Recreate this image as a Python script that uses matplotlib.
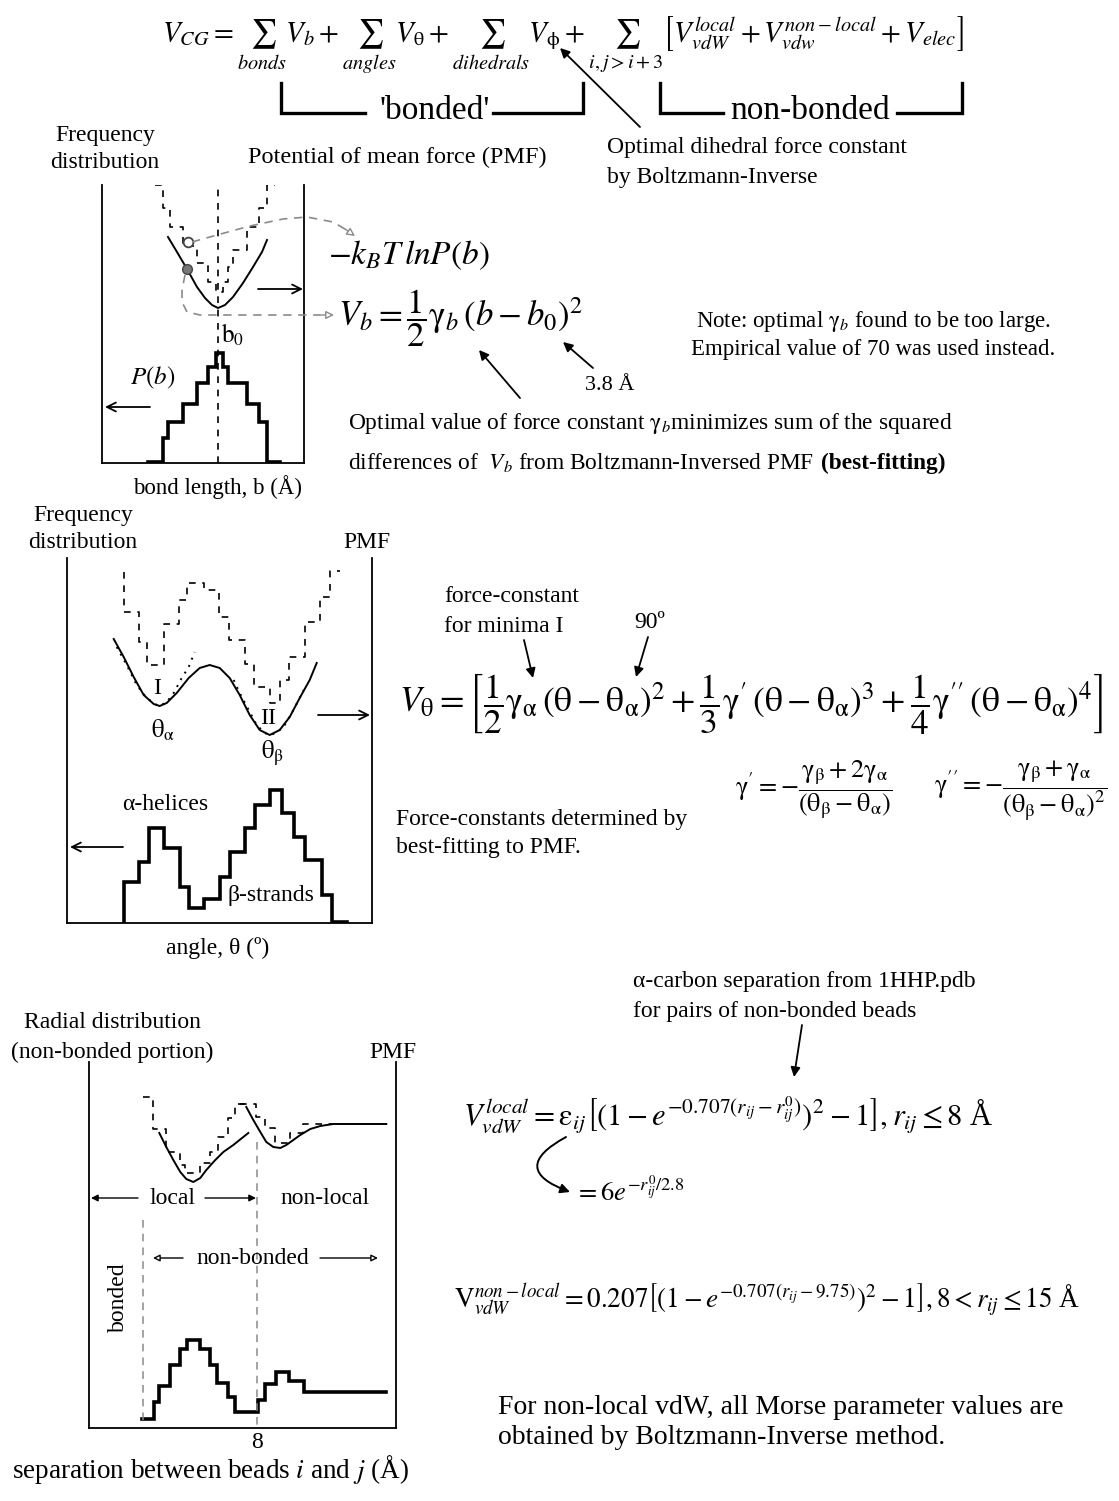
import numpy as np
import matplotlib
matplotlib.use('Agg')
import matplotlib.pyplot as plt

plt.rcParams['font.family'] = ['Liberation Serif', 'DejaVu Serif']
plt.rcParams['mathtext.fontset'] = 'stix'

FW, FH = 1119, 1501

# ---- panel 1: bond length ----
bond_hist_edges = [46, 61, 66, 81, 95, 106, 114, 121, 126, 145, 157, 165, 178]
bond_hist_freq = [1, 25, 41, 59, 80, 96, 110, 96, 80, 59, 41, 1]
bond_pmf_edges = [53, 61, 68, 81, 95, 106, 114, 121, 126, 131, 145, 157, 165, 173]
bond_pmf = [278, 255, 236, 217, 200, 181, 171, 181, 196, 213, 236, 255, 278]
bond_fit_x = [66, 75, 85, 95, 103, 110, 116, 123, 131, 141, 151, 160, 165]
bond_fit_v = [226, 211, 194, 176, 165, 158, 155, 158, 166, 180, 196, 211, 223]

# ---- panel 2: angle ----
ang_hist_edges = [57, 72, 82, 97, 113, 122, 137, 153, 163, 178, 188, 203, 215, 227, 238, 255, 265, 280]
ang_hist_freq = [41, 61, 95, 75, 36, 15, 24, 46, 71, 95, 118, 133, 110, 86, 63, 28, 1]
ang_pmf_edges = [57, 57, 72, 80, 97, 112, 120, 137, 152, 162, 178, 187, 203, 213, 222, 238, 253, 263, 273]
ang_pmf = [351, 311, 281, 258, 299, 323, 340, 333, 306, 283, 259, 236, 220, 243, 266, 301, 326, 352]
ang_fit_x = [47, 57, 67, 77, 87, 93, 100, 110, 122, 133, 143, 153, 163, 173, 183, 193, 203, 213, 223, 233, 243, 250]
ang_fit_v = [284, 266, 246, 228, 219, 217, 220, 230, 245, 255, 258, 255, 245, 228, 208, 193, 188, 193, 206, 225, 243, 260]
ang_harm1_x = [50, 60, 70, 80, 90, 93, 100, 107, 115, 122, 128]
ang_harm1_v = [276, 258, 238, 225, 218, 217, 221, 230, 245, 256, 271]
ang_harm2_x = [167, 173, 182, 190, 198, 203, 210, 218, 225, 232, 237]
ang_harm2_v = [243, 230, 213, 198, 190, 188, 190, 198, 210, 223, 233]

# ---- panel 3: non-bonded separation ----
rdf_edges = [53, 65, 70, 81, 91, 98, 111, 121, 128, 139, 146, 169, 176, 187, 200, 215, 297]
rdf_freq = [9, 26, 42, 63, 79, 88, 79, 63, 45, 31, 16, 28, 44, 56, 47, 36]
loc_pmf_edges = [54, 64, 77, 91, 96, 111, 121, 129, 139, 146, 157]
loc_pmf = [331, 299, 276, 263, 255, 265, 276, 291, 310, 324]
nl_pmf_edges = [151, 167, 176, 186, 201, 214, 244]
nl_pmf = [324, 311, 300, 285, 295, 304]
loc_fit_x = [70, 77, 84, 91, 97, 104, 111, 117, 126, 134, 144, 159]
loc_fit_v = [295, 281, 268, 256, 249, 246, 250, 258, 268, 276, 283, 295]
nl_fit_x = [157, 164, 171, 177, 184, 191, 197, 204, 211, 221, 231, 244, 297]
nl_fit_v = [321, 308, 296, 286, 281, 280, 283, 288, 293, 299, 302, 304, 304]


def steps(edges, vals, base=None):
    xs = list(np.repeat(edges, 2)[1:-1])
    ys = list(np.repeat(vals, 2))
    if base is not None:
        xs = [edges[0]] + xs + [edges[-1]]
        ys = [base] + ys + [base]
    return xs, ys


def upright(s):
    # greek letters set upright like the Symbol font of the original
    for g in ['theta', 'alpha', 'beta', 'gamma', 'phi', 'varepsilon']:
        s = s.replace('\\' + g, r'\mathrm{\%s}' % g)
    return s


def panel(x0, x1, ytop, ybot):
    a = fig.add_axes([x0 / FW, 1 - ybot / FH, (x1 - x0) / FW, (ybot - ytop) / FH])
    a.set_xlim(0, x1 - x0)
    a.set_ylim(0, ybot - ytop)
    a.patch.set_alpha(0)
    a.spines['top'].set_visible(False)
    for s in ['left', 'right', 'bottom']:
        a.spines[s].set_linewidth(1.3)
    a.set_xticks([])
    a.set_yticks([])
    return a


fig = plt.figure(figsize=(FW / 100, FH / 100), dpi=100, facecolor='white')
ax = fig.add_axes([0, 0, 1, 1], zorder=5)
ax.set_xlim(0, FW)
ax.set_ylim(FH, 0)
ax.axis('off')

HIST = dict(color='black', lw=2.6, solid_joinstyle='miter')
PMF = dict(color='black', lw=1.2, ls=(0, (4, 4)))
FIT = dict(color='black', lw=1.4)
ARR = dict(arrowstyle='-|>', color='black', lw=1.3, mutation_scale=14, shrinkA=0, shrinkB=0)
CHEV = dict(arrowstyle='->', color='black', lw=1.3, mutation_scale=16, shrinkA=0, shrinkB=0)
GREY = '#8a8a8a'


def arrow(x0, y0, x1, y1, props=ARR, **kw):
    p = dict(props)
    p.update(kw)
    ax.annotate('', xy=(x1, y1), xytext=(x0, y0), arrowprops=p)


def txt(x, y, s, size=17, ha='center', **kw):
    return ax.text(x, y, s, fontsize=size, ha=ha, va='center', **kw)


# ===== top equation =====
txt(162, 45, upright(r"$V_{CG} = \sum_{bonds} V_b + \sum_{angles} V_{\theta} + \sum_{dihedrals} V_{\phi} + "
    r"\sum_{i,j>i+3} \left[V^{local}_{vdW} + V^{non-local}_{vdw} + V_{elec}\right]$"), size=20.8, ha='left')
for xs, ys in [([281, 281, 365], [83, 113, 113]), ([493, 583, 583], [113, 113, 83]),
               ([660, 660, 723], [83, 113, 113]), ([897, 962, 962], [113, 113, 83])]:
    ax.plot(xs, ys, color='black', lw=2.4, solid_joinstyle='miter')
txt(435, 111, "'bonded'", size=24)
txt(810, 111, "non-bonded", size=24)
arrow(640, 127, 560, 48)
txt(607, 148, "Optimal dihedral force constant", ha='left')
txt(607, 177, "by Boltzmann-Inverse", ha='left')

# ===== panel 1 =====
p1 = panel(102, 304, 185, 463)
p1.plot(*steps(bond_hist_edges, bond_hist_freq), **HIST)
p1.plot(*steps(bond_pmf_edges, bond_pmf), **PMF)
p1.plot(bond_fit_x, bond_fit_v, **FIT)
p1.axvline(116, **PMF)
p1.plot([86], [221], 'o', ms=7, mfc='white', mec='#444444', mew=1.3)
p1.plot([85], [194], 'o', ms=7, mfc='#777777', mec='#444444', mew=1.0)

txt(105, 135, "Frequency")
txt(105, 163, "distribution")
txt(397, 157, "Potential of mean force (PMF)", size=17.5)
txt(218, 487, "bond length, b (Å)", size=16.5)
txt(153, 378, r"$P(b)$", size=18)
txt(221, 335, r"$\mathrm{b}_0$", size=18, ha='left')
arrow(258, 289, 303, 289, CHEV)
arrow(150, 407, 105, 407, CHEV)

# grey dashed Boltzmann-inversion guides
ax.plot([192, 217, 250, 283, 307, 333, 350], [242, 235, 226, 219, 217, 222, 232],
        color=GREY, lw=1.2, ls=(0, (5, 4)))
arrow(345, 229, 355, 236, ARR, color=GREY, fc='white', lw=1.0, mutation_scale=12)
ax.plot([185, 182, 182, 187, 200, 325], [275, 290, 302, 312, 315, 315],
        color=GREY, lw=1.2, ls=(0, (5, 4)))
arrow(322, 315, 334, 315, ARR, color=GREY, fc='white', lw=1.0, mutation_scale=12)

txt(328, 255, r"$-k_BT\,lnP(b)$", size=24, ha='left')
txt(338, 318, upright(r"$V_b = \dfrac{1}{2}\gamma_b\,(b-b_0)^2$"), size=25, ha='left')
arrow(520, 398, 479, 350)
arrow(593, 368, 563, 342)
txt(610, 385, "3.8 Å", size=16)
txt(873, 322, upright(r"Note: optimal $\gamma_b$ found to be too large."), size=16.5)
txt(873, 350, "Empirical value of 70 was used instead.", size=16.5)
txt(348, 423, upright(r"Optimal value of force constant $\gamma_b$minimizes sum of the squared"), size=16.8, ha='left')
t1 = txt(348, 462, r"differences of  $V_b$ from Boltzmann-Inversed PMF", size=16.8, ha='left')
ax.annotate("(best-fitting)", xy=(1, 0), xycoords=t1, xytext=(5, 0), textcoords='offset points',
            ha='left', va='bottom', fontsize=16.8, fontweight='bold')

# ===== panel 2 =====
p2 = panel(66.7, 371.7, 558, 923)
p2.plot(*steps(ang_hist_edges, ang_hist_freq, base=0), **HIST)
p2.plot(*steps(ang_pmf_edges, ang_pmf), **PMF)
p2.plot(ang_fit_x, ang_fit_v, **FIT)
p2.plot(ang_harm1_x, ang_harm1_v, color='black', lw=1.4, ls=(0, (1, 3)))
p2.plot(ang_harm2_x, ang_harm2_v, color='black', lw=1.4, ls=(0, (1, 3)))

txt(83, 515, "Frequency")
txt(83, 543, "distribution")
txt(367, 543, "PMF")
txt(218, 948, "angle, θ (º)")
txt(165, 805, "α-helices")
txt(271, 895, "β-strands")
txt(157, 688, "I")
txt(268, 718, "II")
txt(163, 730, upright(r"$\theta_{\alpha}$"), size=18)
txt(272, 753, upright(r"$\theta_{\beta}$"), size=18)
arrow(318, 715, 370, 715, CHEV)
arrow(123, 847, 70, 847, CHEV)

txt(444, 597, "force-constant", ha='left')
txt(444, 626, "for minima I", ha='left')
txt(650, 622, "90º")
arrow(524, 640, 533, 678)
arrow(648, 637, 636, 677)
txt(399, 703, upright(r"$V_{\theta} = \left[\dfrac{1}{2}\gamma_{\alpha}\,(\theta-\theta_{\alpha})^2 + "
    r"\dfrac{1}{3}\gamma^{\prime}\,(\theta-\theta_{\alpha})^3 + \dfrac{1}{4}\gamma^{\prime\prime}\,"
    r"(\theta-\theta_{\alpha})^4\right]$"), size=25.5, ha='left')
txt(735, 790, upright(r"$\gamma^{\prime} = -\dfrac{\gamma_{\beta}+2\gamma_{\alpha}}{(\theta_{\beta}-\theta_{\alpha})}$"),
    size=19, ha='left')
txt(934, 790, upright(r"$\gamma^{\prime\prime} = -\dfrac{\gamma_{\beta}+\gamma_{\alpha}}{(\theta_{\beta}-\theta_{\alpha})^2}$"),
    size=19, ha='left')
txt(396, 820, "Force-constants determined by", ha='left')
txt(396, 848, "best-fitting to PMF.", ha='left')

# ===== panel 3 =====
p3 = panel(89.3, 396, 1062, 1428)
p3.plot(*steps(rdf_edges, rdf_freq), **HIST)
p3.plot(*steps(loc_pmf_edges, loc_pmf), **PMF)
p3.plot(*steps(nl_pmf_edges, nl_pmf), **PMF)
p3.plot(loc_fit_x, loc_fit_v, **FIT)
p3.plot(nl_fit_x, nl_fit_v, **FIT)
ax.plot([143, 143], [1220, 1420], color=GREY, lw=1.1, ls=(0, (5, 4)))
ax.plot([257, 257], [1142, 1428], color=GREY, lw=1.1, ls=(0, (5, 4)))

txt(112, 1023, "Radial distribution")
txt(112, 1052, "(non-bonded portion)")
txt(393, 1052, "PMF")
txt(172, 1198, "local")
txt(325, 1198, "non-local")
arrow(138, 1198, 91, 1198, ARR, mutation_scale=10, lw=1.0)
arrow(205, 1198, 256, 1198, ARR, mutation_scale=10, lw=1.0)
txt(253, 1258, "non-bonded")
arrow(183, 1258, 153, 1258, ARR, fc='white', mutation_scale=10, lw=1.0)
arrow(320, 1258, 378, 1258, ARR, fc='white', mutation_scale=10, lw=1.0)
txt(118, 1297, "bonded", rotation=90)
txt(257, 1442, "8", size=17)
txt(210, 1470, r"separation between beads $i$ and $j$ (Å)", size=19.5)

txt(633, 982, "α-carbon separation from 1HHP.pdb", ha='left')
txt(633, 1012, "for pairs of non-bonded beads", ha='left')
arrow(802, 1025, 794, 1077)
txt(463, 1115, upright(r"$V^{local}_{vdW} = \varepsilon_{ij}\left[\left(1-e^{-0.707(r_{ij}-r^0_{ij})}\right)^2-1\right],"
    r"r_{ij} \leq 8$ Å"), size=22, ha='left')
ax.annotate('', xy=(570, 1192), xytext=(566, 1137),
            arrowprops=dict(arrowstyle='-|>', color='black', lw=1.4, mutation_scale=14,
                            shrinkA=0, shrinkB=0, connectionstyle='arc3,rad=1.1'))
txt(575, 1190, r"$= 6e^{-r^0_{ij}/2.8}$", size=19, ha='left')
txt(454, 1300, r"$\mathrm{V}^{non-local}_{vdW} = 0.207\left[\left(1-e^{-0.707(r_{ij}-9.75)}\right)^2-1\right],"
    r"8 < r_{ij} \leq 15$ Å", size=19.5, ha='left')
txt(498, 1408, "For non-local vdW, all Morse parameter values are", size=20, ha='left')
txt(498, 1437, "obtained by Boltzmann-Inverse method.", size=20, ha='left')

fig.savefig('out.png', dpi=100, facecolor='white')
